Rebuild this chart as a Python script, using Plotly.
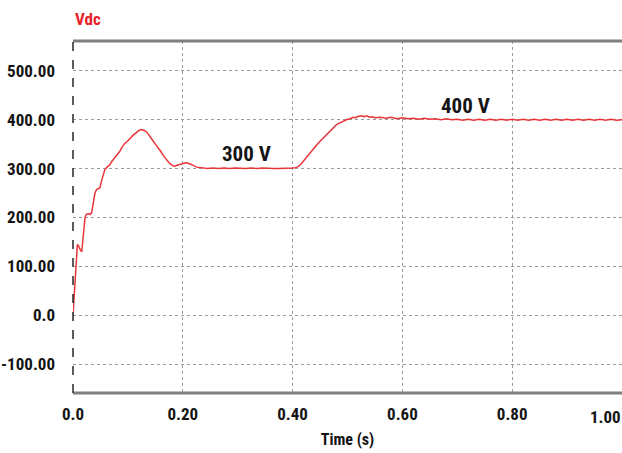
import plotly.graph_objects as go

# Time (s)
time_s = [
    0.000, 0.002, 0.004, 0.006, 0.008, 0.011, 0.014, 0.016, 0.019, 0.022,
    0.024, 0.028, 0.031, 0.034, 0.037, 0.040, 0.043, 0.046, 0.049, 0.052,
    0.055, 0.058, 0.062, 0.067, 0.071, 0.076, 0.080, 0.085, 0.090, 0.094,
    0.100, 0.105, 0.110, 0.115, 0.120, 0.125, 0.130, 0.135, 0.140, 0.145,
    0.150, 0.155, 0.160, 0.165, 0.170, 0.175, 0.180, 0.185, 0.190, 0.195,
    0.200, 0.205, 0.210, 0.215, 0.220, 0.225, 0.230, 0.235, 0.245, 0.255,
    0.265, 0.275, 0.285, 0.295, 0.305, 0.315, 0.325, 0.335, 0.345, 0.355,
    0.365, 0.375, 0.385, 0.395, 0.400, 0.405, 0.410, 0.415, 0.420, 0.425,
    0.430, 0.435, 0.440, 0.445, 0.450, 0.455, 0.460, 0.465, 0.470, 0.475,
    0.480, 0.485, 0.490, 0.495, 0.500, 0.505, 0.510, 0.515, 0.520, 0.525,
    0.530, 0.535, 0.540, 0.545, 0.550, 0.560, 0.570, 0.580, 0.590, 0.600,
    0.610, 0.620, 0.630, 0.640, 0.650, 0.660, 0.670, 0.680, 0.690, 0.700,
    0.710, 0.720, 0.730, 0.740, 0.750, 0.760, 0.770, 0.780, 0.790, 0.800,
    0.810, 0.820, 0.830, 0.840, 0.850, 0.860, 0.870, 0.880, 0.890, 0.900,
    0.910, 0.920, 0.930, 0.940, 0.950, 0.960, 0.970, 0.980, 0.990, 1.000,
]

# Vdc (V)
vdc = [
    0, 40, 90, 130, 145, 140, 132, 131, 165, 200,
    206, 208, 206, 210, 230, 250, 257, 259, 261, 275,
    290, 298, 303, 308, 315, 322, 327, 335, 345, 351,
    357, 364, 369, 373, 378, 380, 378, 374, 367, 358,
    350, 343, 335, 326, 318, 312, 307, 305, 307, 309,
    310, 312, 311, 309, 306, 303, 302, 301, 300, 301,
    300, 301, 300, 301, 300, 300, 301, 300, 301, 300,
    300, 300, 300, 300, 301, 302, 304, 309, 316, 323,
    331, 338, 345, 350, 356, 362, 366, 373, 378, 385,
    390, 393, 396, 398, 401, 402, 405, 404, 407, 408,
    406, 408, 405, 406, 404, 405, 403, 405, 402, 404,
    402, 403, 401, 403, 401, 402, 400, 402, 400, 401,
    399, 401, 399, 401, 399, 401, 399, 401, 399, 401,
    399, 401, 399, 401, 399, 401, 399, 401, 399, 401,
    399, 401, 399, 401, 399, 401, 399, 401, 399, 400,
]

x_ticks = [0.0, 0.2, 0.4, 0.6, 0.8]
x_ticktext = ["0.0", "0.20", "0.40", "0.60", "0.80"]
x_last_label = "1.00"
y_ticks = [-100, 0, 100, 200, 300, 400, 500]
y_ticktext = ["-100.00", "0.0", "100.00", "200.00", "300.00", "400.00", "500.00"]

labels = ["300 V", "400 V"]
label_x = [0.316, 0.715]
label_y = [329, 428]

FONT = "Roboto Condensed, Liberation Sans Narrow, Liberation Sans, Arial, sans-serif"
RED = "#e8353a"
INK = "#141414"

fig = go.Figure()
fig.add_trace(go.Scatter(
    x=time_s, y=vdc, mode="lines",
    line=dict(color=RED, width=1.5),
    hoverinfo="skip", showlegend=False,
))

for t, lx, ly in zip(labels, label_x, label_y):
    fig.add_annotation(
        x=lx, y=ly, xref="x", yref="y", text=t, showarrow=False,
        font=dict(family=FONT, size=21, color=INK, weight="bold"),
    )

fig.add_annotation(
    x=0, y=1 + (393 - 19 - 352) / 352, xref="paper", yref="paper",
    xanchor="left", yanchor="middle", text="Vdc", showarrow=False,
    font=dict(family=FONT, size=17, color="#e8202a", weight="bold"),
)

# rightmost x tick label, kept inside the page edge
fig.add_annotation(
    x=1, y=0, xref="paper", yref="paper", xanchor="right", yanchor="top",
    yshift=-12, xshift=1, text=x_last_label, showarrow=False,
    font=dict(family=FONT, size=17, color=INK, weight="bold"),
)

# frame decorations
fig.add_shape(type="line", xref="paper", yref="paper", x0=0, x1=1, y0=1, y1=1,
              line=dict(color="#7f7f7f", width=3), layer="above")
fig.add_shape(type="line", xref="paper", yref="paper", x0=0, x1=1, y0=0, y1=0,
              line=dict(color="#7f7f7f", width=3), layer="above")
fig.add_shape(type="line", xref="paper", yref="paper", x0=0, x1=0, y0=0, y1=1,
              line=dict(color="#333333", width=1.6, dash="dash"), layer="above")

fig.update_layout(
    width=622, height=453,
    margin=dict(l=73, r=0, t=41, b=60),
    paper_bgcolor="white", plot_bgcolor="white",
    font=dict(family=FONT, color=INK),
    xaxis=dict(
        range=[0, 1.0], tickvals=x_ticks, ticktext=x_ticktext,
        showgrid=True, gridcolor="#9a9a9a", griddash="dot", gridwidth=1,
        zeroline=False, showline=False, ticks="", automargin=False,
        ticklabelstandoff=9,
        tickfont=dict(family=FONT, size=17, color=INK, weight="bold"),
        title=dict(text="Time (s)", font=dict(family=FONT, size=16, color=INK, weight="bold"), standoff=10),
    ),
    yaxis=dict(
        range=[-159, 561], tickvals=y_ticks, ticktext=y_ticktext,
        showgrid=True, gridcolor="#9a9a9a", griddash="dot", gridwidth=1,
        zeroline=False, showline=False, ticks="", automargin=False,
        tickfont=dict(family=FONT, size=17, color=INK, weight="bold"),
        ticklabelstandoff=17,
    ),
)

fig.write_html("out.html", config={"displayModeBar": False},
               post_script="document.body.style.margin='0';")
